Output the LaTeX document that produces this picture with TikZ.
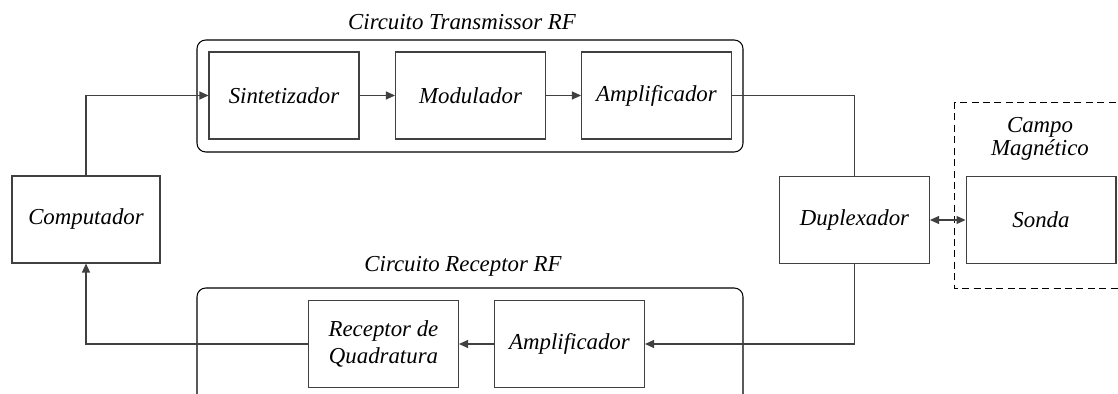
\documentclass[tikz,border=0pt]{standalone}
\usepackage{fontspec}
\setmainfont{Liberation Serif}
\usetikzlibrary{arrows.meta,positioning}

\tikzset{
  bloco/.style={draw=black!75,line width=0.6pt,minimum width=3cm,minimum height=1.74cm,
    inner sep=2pt,align=center,font=\fontsize{13}{15}\selectfont\itshape},
  titulo/.style={font=\fontsize{13}{15}\selectfont\itshape,align=center,inner sep=0pt},
  linha/.style={draw=black!75,line width=0.6pt},
  seta/.style={linha,-{Triangle[length=1.8mm,width=1.6mm]}}
}

\begin{document}
\begin{tikzpicture}[x=0.02cm,y=-0.02cm]
\useasboundingbox (0,0) rectangle (1118,394);

%containers
\draw [line width=0.6pt,rounded corners=5pt] (197,40) rectangle (743,152);
\draw [line width=0.6pt,rounded corners=5pt] (197,288) rectangle (743,460);
\draw [line width=0.5pt,dash pattern=on 4pt off 2.5pt] (954,102) rectangle (1140,288);
\node [titulo] (ttx) at (462,22) {Circuito Transmissor RF};
\node [titulo] (trx) at (463,266) {Circuito Receptor RF};
\node [titulo] (tcampo) at (1040,139) {Campo\\[-2pt]Magnético};

%blocks
\node [bloco] (sint) at (284,95.5) {Sintetizador};
\node [bloco] (mod) at (470.5,95.5) {Modulador};
\node [bloco] (amptx) at (656.5,95.5) {Amplificador};
\node [bloco,minimum width=2.96cm] (comp) at (86,219.5) {Computador};
\node [bloco] (dup) at (854.5,220) {Duplexador};
\node [bloco] (sonda) at (1041,220) {Sonda};
\node [bloco] (recq) at (383.5,344) {Receptor de\\Quadratura};
\node [bloco] (amprx) at (569.5,344) {Amplificador};

%transmit path
\draw [seta] (comp.north) |- (sint.west);
\draw [seta] (sint) -- (mod);
\draw [seta] (mod) -- (amptx);
\draw [linha] (amptx.east) -| (dup.north);

%probe
\draw [linha,{Triangle[length=1.8mm,width=1.6mm]}-{Triangle[length=1.8mm,width=1.6mm]}] (dup) -- (sonda);

%receive path
\draw [seta] (dup.south) |- (amprx.east);
\draw [seta] (amprx) -- (recq);
\draw [seta] (recq.west) -| (comp.south);
\end{tikzpicture}
\end{document}
